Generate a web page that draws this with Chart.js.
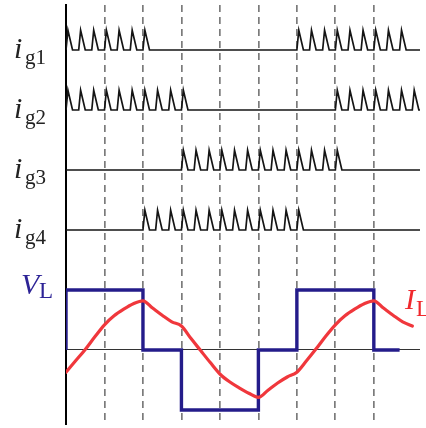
<!DOCTYPE html>
<html>
<head>
<meta charset="utf-8">
<script src="https://cdn.jsdelivr.net/npm/chart.js@4.4.1/dist/chart.umd.min.js"></script>
<style>
  html, body { margin: 0; padding: 0; background: #ffffff; }
  #wrap { width: 426px; height: 428px; }
</style>
</head>
<body>
<div id="wrap"><canvas id="c" width="426" height="428"></canvas></div>
<script>
// ---- data (time in switching-interval units) ----
const gateNames = ['g1', 'g2', 'g3', 'g4'];
const ig1Pulses = [0, 0.33, 0.67, 1, 1.33, 1.67, 2, 6, 6.33, 6.67, 7, 7.33, 7.67, 8, 8.33, 8.67];
const ig2Pulses = [0, 0.33, 0.67, 1, 1.33, 1.67, 2, 2.33, 2.67, 3, 7, 7.33, 7.67, 8, 8.33, 8.67, 9];
const ig3Pulses = [3, 3.33, 3.67, 4, 4.33, 4.67, 5, 5.33, 5.67, 6, 6.33, 6.67, 7];
const ig4Pulses = [2, 2.33, 2.67, 3, 3.33, 3.67, 4, 4.33, 4.67, 5, 5.33, 5.67, 6];

const vlTimes  = [0, 0, 2, 2, 3, 3, 5, 5, 6, 6, 8, 8, 8.67];
const vlValues = [0, 1, 1, 0, 0, -1, -1, 0, 0, 1, 1, 0, 0];

const ilTimes  = [0, 0.25, 0.5, 0.75, 1, 1.25, 1.5, 1.75, 2, 2.25, 2.5, 2.75, 3, 3.25, 3.5, 3.75, 4, 4.25, 4.5, 4.75, 5,
                  5.25, 5.5, 5.75, 6, 6.25, 6.5, 6.75, 7, 7.25, 7.5, 7.75, 8, 8.25, 8.5, 8.75, 9];
const ilValues = [-0.37, -0.18, 0.01, 0.22, 0.42, 0.57, 0.68, 0.77, 0.82, 0.70, 0.58, 0.47, 0.40, 0.19, -0.01, -0.21, -0.40, -0.53, -0.63, -0.72, -0.79,
                  -0.67, -0.55, -0.45, -0.37, -0.18, 0.02, 0.23, 0.42, 0.57, 0.68, 0.77, 0.82, 0.70, 0.58, 0.47, 0.40];

const dashedTicks = [1, 2, 3, 4, 5, 6, 7, 8];

// ---- layout / style ----
const X_MAX = 9.2;
const gateOffsets = [5, 4, 3, 2];   // row baselines on the shared y scale
const toothH = 0.33, toothRise = 0.05, toothFall = 0.17;

function gateTrace(pulses, offset) {
  const pts = [{x: 0, y: offset}];
  pulses.forEach(t => {
    pts.push({x: t, y: offset});
    pts.push({x: t + toothRise, y: offset + toothH});
    pts.push({x: t + toothFall, y: offset});
  });
  pts.push({x: X_MAX, y: offset});
  return pts;
}

const gatePulses = [ig1Pulses, ig2Pulses, ig3Pulses, ig4Pulses];
const datasets = gatePulses.map((p, i) => ({
  label: 'i' + gateNames[i],
  data: gateTrace(p, gateOffsets[i]),
  borderColor: '#151515',
  borderWidth: 1.7,
  borderJoinStyle: 'miter',
  pointRadius: 0,
  tension: 0
}));

datasets.push({
  label: 'IL',
  data: ilTimes.map((t, i) => ({x: t, y: ilValues[i]})),
  borderColor: 'rgb(240,55,60)',
  borderWidth: 3.2,
  pointRadius: 0,
  cubicInterpolationMode: 'monotone',
  borderCapStyle: 'round'
});
datasets.push({
  label: 'VL',
  data: vlTimes.map((t, i) => ({x: t, y: vlValues[i]})),
  borderColor: 'rgb(36,28,138)',
  borderWidth: 3.4,
  borderJoinStyle: 'miter',
  pointRadius: 0,
  tension: 0
});

const labelPlugin = {
  id: 'labels',
  afterDraw(chart) {
    const ctx = chart.ctx;
    const y = chart.scales.y;
    ctx.save();
    ctx.textBaseline = 'alphabetic';
    ctx.textAlign = 'left';
    gateNames.forEach((g, i) => {
      const py = y.getPixelForValue(gateOffsets[i]);
      ctx.fillStyle = '#222';
      ctx.font = 'italic 30px "Liberation Serif", "DejaVu Serif", serif';
      ctx.fillText('i', 14, py + 8);
      ctx.font = '21px "Liberation Serif", "DejaVu Serif", serif';
      ctx.fillText(g, 25, py + 14);
    });
    const top = y.getPixelForValue(1);
    ctx.fillStyle = 'rgb(45,35,150)';
    ctx.font = 'italic 30px "Liberation Serif", "DejaVu Serif", serif';
    ctx.fillText('V', 21, top + 4);
    ctx.font = '23px "Liberation Serif", "DejaVu Serif", serif';
    ctx.fillText('L', 39, top + 8);
    ctx.fillStyle = 'rgb(240,40,45)';
    ctx.font = 'italic 30px "Liberation Serif", "DejaVu Serif", serif';
    ctx.fillText('I', 405, top + 19);
    ctx.font = '23px "Liberation Serif", "DejaVu Serif", serif';
    ctx.fillText('L', 416, top + 26);
    ctx.restore();
  }
};

new Chart(document.getElementById('c'), {
  type: 'line',
  data: { datasets },
  options: {
    responsive: false,
    animation: false,
    devicePixelRatio: 1,
    layout: { padding: { left: 66, right: 6, top: 5, bottom: 3 } },
    plugins: { legend: { display: false }, tooltip: { enabled: false } },
    scales: {
      x: {
        type: 'linear',
        min: 0,
        max: X_MAX,
        afterBuildTicks: s => { s.ticks = dashedTicks.map(v => ({value: v})); },
        ticks: { display: false },
        grid: { color: 'rgba(100,100,100,0.85)', lineWidth: 1.7, drawTicks: false },
        border: { display: false, dash: [7, 5] }
      },
      y: {
        type: 'linear',
        min: -1.25,
        max: 5.75,
        afterBuildTicks: s => { s.ticks = [{value: 0}]; },
        ticks: { display: false },
        grid: { color: '#333', lineWidth: 1.1, drawTicks: false },
        border: { display: true, color: '#000', width: 2 }
      }
    }
  },
  plugins: [labelPlugin]
});
</script>
</body>
</html>
